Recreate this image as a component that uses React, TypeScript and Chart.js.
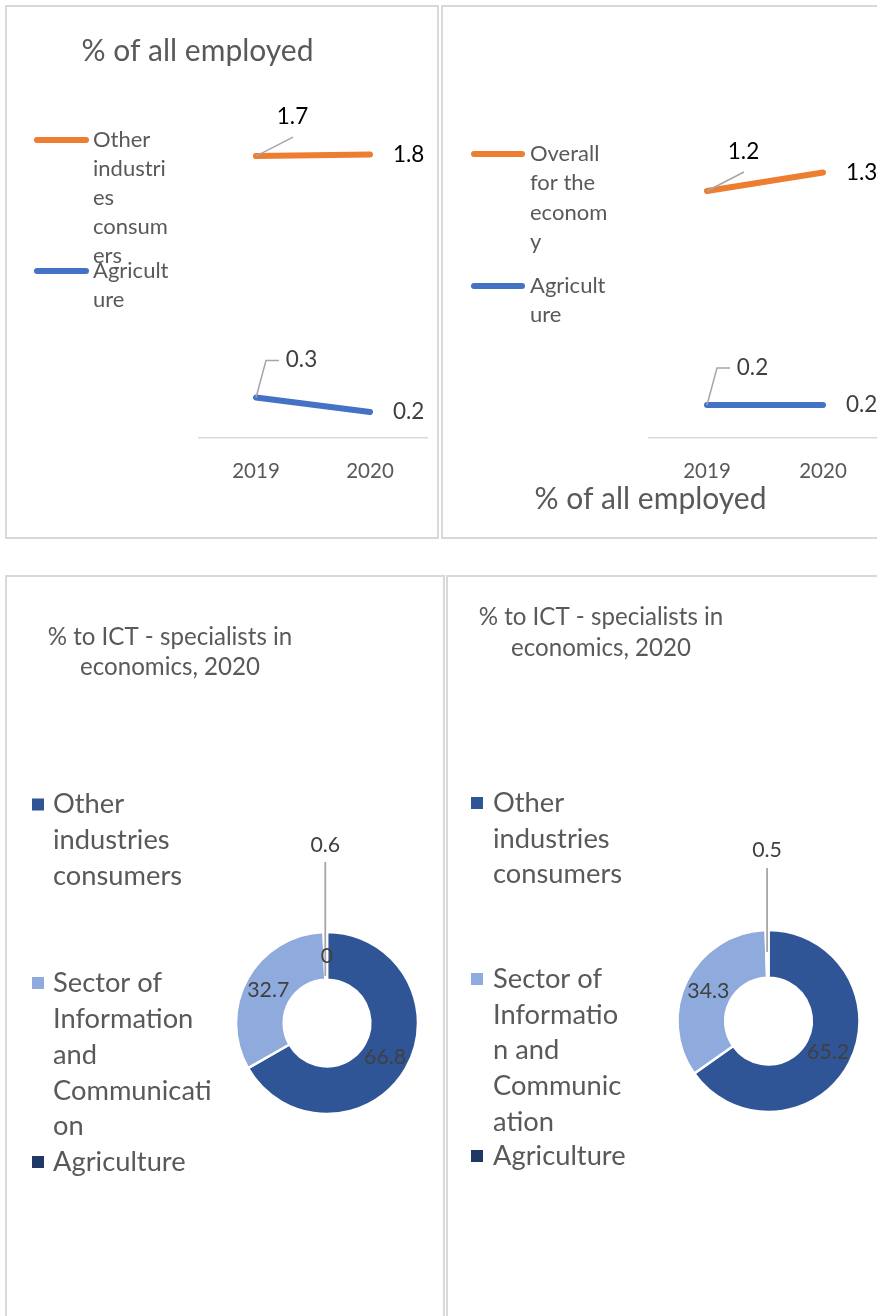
import React, { useEffect, useRef } from 'react';
import { Chart, registerables } from 'chart.js';

Chart.register(...registerables);

// ---------------- data ----------------
const years = ['2019', '2020'];
const employedTitle = '% of all employed';

const leftSeriesNames = ['Other industries consumers', 'Agriculture'];
const leftOtherIndustries = [1.74, 1.75];
const leftAgriculture = [0.25, 0.16];
const leftLegendLines = [['Other', 'industri', 'es', 'consum', 'ers'], ['Agricult', 'ure']];

const rightSeriesNames = ['Overall for the economy', 'Agriculture'];
const rightOverall = [1.2, 1.29];
const rightAgriculture = [0.16, 0.16];
const rightLegendLines = [['Overall', 'for the', 'econom', 'y'], ['Agricult', 'ure']];

const ictTitleLines = ['% to ICT - specialists in', 'economics, 2020'];
const ictCategories = ['Other industries consumers', 'Sector of Information and Communication', 'Agriculture'];
const ictLeftCategories = [...ictCategories, ''];
const ictLeftValues = [66.8, 32.7, 0.6, 0];
const ictRightValues = [65.2, 34.3, 0.5];
const ictLeftLegendLines = [['Other', 'industries', 'consumers'], ['Sector of', 'Information', 'and', 'Communicati', 'on'], ['Agriculture']];
const ictRightLegendLines = [['Other', 'industries', 'consumers'], ['Sector of', 'Informatio', 'n and', 'Communic', 'ation'], ['Agriculture']];

// ---------------- styles ----------------
const FONT = 'Lato, "Open Sans", sans-serif';
const ORANGE = '#ed7d31';
const BLUE = '#4472c4';
const DARK = '#2f5597';
const LIGHT = '#8faadc';
const NAVY = '#203864';
const GREY_TEXT = '#595959';
const LABEL_GREY = '#404040';
const LEADER = '#a6a6a6';
const BORDER = '#d9d9d9';
const ictColors = [DARK, LIGHT, NAVY, NAVY];

// ---------------- plugins ----------------
const textBlockPlugin = {
  id: 'textBlock',
  afterDraw(chart: any, _a: any, opts: any) {
    if (!opts || !opts.lines) return;
    const ctx = chart.ctx;
    ctx.save();
    ctx.font = `${opts.size}px ${FONT}`;
    ctx.fillStyle = opts.color;
    ctx.textAlign = 'center';
    ctx.textBaseline = 'middle';
    opts.lines.forEach((t: string, i: number) => ctx.fillText(t, opts.x, opts.y + i * opts.lineHeight));
    ctx.restore();
  },
};

const sideLegendPlugin = {
  id: 'sideLegend',
  afterDraw(chart: any, _a: any, opts: any) {
    if (!opts || !opts.lines) return;
    const ctx = chart.ctx;
    ctx.save();
    ctx.font = `${opts.size}px ${FONT}`;
    ctx.textBaseline = 'middle';
    ctx.textAlign = 'left';
    opts.lines.forEach((lines: string[], i: number) => {
      const y0 = opts.itemY[i];
      const color = opts.colors[i];
      if (opts.marker === 'line') {
        ctx.strokeStyle = color;
        ctx.lineWidth = 6;
        ctx.lineCap = 'round';
        ctx.beginPath();
        ctx.moveTo(opts.markerX0 + 3, y0);
        ctx.lineTo(opts.markerX1 - 3, y0);
        ctx.stroke();
      } else {
        ctx.fillStyle = color;
        const s = opts.markerX1 - opts.markerX0;
        ctx.fillRect(opts.markerX0, y0 - s / 2, s, s);
      }
      ctx.fillStyle = opts.color;
      lines.forEach((t: string, j: number) => ctx.fillText(t, opts.textX, y0 + j * opts.lineHeight));
    });
    ctx.restore();
  },
};

const lineLabelsPlugin = {
  id: 'lineLabels',
  afterDatasetsDraw(chart: any, _a: any, opts: any) {
    if (!opts || !opts.colors) return;
    const ctx = chart.ctx;
    chart.data.datasets.forEach((ds: any, di: number) => {
      const meta = chart.getDatasetMeta(di);
      const callout = opts.callouts[di];
      meta.data.forEach((pt: any, i: number) => {
        const text = Number(ds.data[i]).toFixed(1);
        ctx.save();
        ctx.font = `${opts.size}px ${FONT}`;
        ctx.fillStyle = opts.colors[di];
        ctx.textBaseline = 'middle';
        if (i === 0) {
          ctx.strokeStyle = LEADER;
          ctx.lineWidth = 1.5;
          ctx.beginPath();
          ctx.moveTo(pt.x, pt.y);
          if (callout === 'diag') {
            ctx.lineTo(pt.x + 37, pt.y - 19);
          } else {
            ctx.lineTo(pt.x + 10, pt.y - 37);
            ctx.lineTo(pt.x + 23, pt.y - 37);
          }
          ctx.stroke();
          ctx.textAlign = 'center';
          if (callout === 'diag') ctx.fillText(text, pt.x + 36.5, pt.y - 39.5);
          else ctx.fillText(text, pt.x + 45.5, pt.y - 37.5);
        } else {
          ctx.textAlign = 'left';
          ctx.fillText(text, pt.x + 23, pt.y);
        }
        ctx.restore();
      });
    });
  },
};

const donutLabelsPlugin = {
  id: 'donutLabels',
  afterDatasetsDraw(chart: any, _a: any, opts: any) {
    if (!opts || !opts.size) return;
    const ctx = chart.ctx;
    const ds = chart.data.datasets[0];
    const total = ds.data.reduce((a: number, b: number) => a + b, 0);
    const meta = chart.getDatasetMeta(0);
    meta.data.forEach((arc: any, i: number) => {
      const v = ds.data[i];
      const { x, y, startAngle, endAngle, innerRadius, outerRadius } = arc;
      const mid = (startAngle + endAngle) / 2;
      ctx.save();
      ctx.font = `${opts.size}px ${FONT}`;
      ctx.fillStyle = opts.color;
      ctx.textAlign = 'center';
      ctx.textBaseline = 'middle';
      if (v > 0 && v / total < 0.02) {
        const lx = x + Math.cos(mid) * outerRadius;
        ctx.strokeStyle = LEADER;
        ctx.lineWidth = 1.8;
        ctx.beginPath();
        ctx.moveTo(lx, y - opts.leaderStart);
        ctx.lineTo(lx, y - opts.leaderEnd);
        ctx.stroke();
        ctx.fillText(String(v), lx, y - opts.calloutOffset);
      } else {
        const r = (innerRadius + outerRadius) / 2;
        ctx.fillText(String(v), x + Math.cos(mid) * r, y + Math.sin(mid) * r);
      }
      ctx.restore();
    });
  },
};

// ---------------- configs ----------------
function makeLineConfig(p: any) {
  return {
    type: 'line',
    data: {
      labels: years,
      datasets: p.values.map((d: number[], i: number) => ({
        label: p.names[i],
        data: d,
        borderColor: p.colors[i],
        backgroundColor: p.colors[i],
        borderWidth: 6,
        borderCapStyle: 'round',
        borderJoinStyle: 'round',
        pointRadius: 0,
        pointHoverRadius: 0,
        tension: 0,
        fill: false,
      })),
    },
    options: {
      responsive: false,
      animation: false,
      events: [],
      layout: { padding: p.padding },
      scales: {
        x: {
          offset: true,
          grid: { display: false, drawTicks: false },
          border: { display: true, color: BORDER, width: 1.5 },
          ticks: { color: GREY_TEXT, font: { family: FONT, size: 20.5 }, padding: 21 },
          afterFit: (s: any) => {
            s.height = 60;
          },
        },
        y: { display: false, min: 0, max: p.yMax },
      },
      plugins: {
        legend: { display: false },
        tooltip: { enabled: false },
        title: { display: false },
        sideLegend: {
          lines: p.legendLines,
          colors: p.colors,
          marker: 'line',
          size: 22,
          color: GREY_TEXT,
          ...p.legend,
        },
        textBlock: { lines: [employedTitle], size: 30, color: GREY_TEXT, lineHeight: 30, ...p.title },
        lineLabels: { colors: ['#000000', LABEL_GREY], callouts: ['diag', 'elbow'], size: 22.5 },
      },
    },
    plugins: [sideLegendPlugin, textBlockPlugin, lineLabelsPlugin],
  };
}

function makeDonutConfig(p: any) {
  return {
    type: 'doughnut',
    data: {
      labels: p.labels,
      datasets: [
        {
          data: p.values,
          backgroundColor: ictColors.slice(0, p.values.length),
          borderColor: '#ffffff',
          borderWidth: 2.5,
          hoverOffset: 0,
        },
      ],
    },
    options: {
      responsive: false,
      animation: false,
      events: [],
      radius: 91,
      cutout: 47,
      layout: { padding: p.padding },
      plugins: {
        legend: { display: false },
        tooltip: { enabled: false },
        title: { display: false },
        sideLegend: {
          lines: p.legendLines,
          colors: ictColors,
          marker: 'square',
          size: 27.3,
          color: GREY_TEXT,
          ...p.legend,
        },
        textBlock: { lines: ictTitleLines, size: 24.1, color: GREY_TEXT, lineHeight: 30.5, ...p.title },
        donutLabels: { size: 21.3, color: LABEL_GREY, ...p.callout },
      },
    },
    plugins: [sideLegendPlugin, textBlockPlugin, donutLabelsPlugin],
  };
}

const panels = [
  {
    key: 'p1',
    left: 5,
    top: 5,
    width: 434,
    height: 534,
    border: { width: 434, height: 534 },
    config: () =>
      makeLineConfig({
        names: leftSeriesNames,
        values: [leftOtherIndustries, leftAgriculture],
        colors: [ORANGE, BLUE],
        legendLines: leftLegendLines,
        padding: { left: 194, right: 12, top: 109, bottom: 41 },
        yMax: 2,
        legend: { markerX0: 29, markerX1: 84, textX: 88, itemY: [135, 266], lineHeight: 29 },
        title: { x: 192.5, y: 46 },
      }),
  },
  {
    key: 'p2',
    left: 441,
    top: 5,
    width: 446,
    height: 534,
    border: { width: 460, height: 534 },
    config: () =>
      makeLineConfig({
        names: rightSeriesNames,
        values: [rightOverall, rightAgriculture],
        colors: [ORANGE, BLUE],
        legendLines: rightLegendLines,
        padding: { left: 208, right: 6, top: 103.7, bottom: 41 },
        yMax: 1.6,
        legend: { markerX0: 30, markerX1: 84, textX: 89, itemY: [149, 281], lineHeight: 29.3 },
        title: { x: 209.5, y: 494 },
      }),
  },
  {
    key: 'p3',
    left: 5,
    top: 575,
    width: 440,
    height: 741,
    border: { width: 440, height: 780 },
    config: () =>
      makeDonutConfig({
        labels: ictLeftCategories,
        values: ictLeftValues,
        legendLines: ictLeftLegendLines,
        padding: { left: 222, right: 18, top: 348, bottom: 193 },
        legend: { markerX0: 27, markerX1: 39, textX: 48, itemY: [229.5, 408, 587], lineHeight: 35.9 },
        title: { x: 165, y: 62 },
        callout: { calloutOffset: 178, leaderStart: 161, leaderEnd: 47 },
      }),
  },
  {
    key: 'p4',
    left: 446,
    top: 575,
    width: 441,
    height: 741,
    border: { width: 460, height: 780 },
    config: () =>
      makeDonutConfig({
        labels: ictCategories,
        values: ictRightValues,
        legendLines: ictRightLegendLines,
        padding: { left: 222.5, right: 18.5, top: 346, bottom: 195 },
        legend: { markerX0: 25, markerX1: 37, textX: 47, itemY: [228, 404, 581], lineHeight: 35.8 },
        title: { x: 155, y: 42.6 },
        callout: { calloutOffset: 171, leaderStart: 153, leaderEnd: 69 },
      }),
  },
];

function ChartCanvas(props: { left: number; top: number; width: number; height: number; config: () => any }) {
  const ref = useRef<HTMLCanvasElement>(null);
  useEffect(() => {
    if (!ref.current) return;
    const chart = new Chart(ref.current, props.config());
    return () => chart.destroy();
  }, []);
  return (
    <canvas
      ref={ref}
      width={props.width}
      height={props.height}
      style={{ position: 'absolute', left: props.left, top: props.top, width: props.width, height: props.height }}
    />
  );
}

export default function App() {
  return (
    <div
      style={{
        position: 'absolute',
        left: 0,
        top: 0,
        width: 877,
        height: 1316,
        overflow: 'hidden',
        background: '#ffffff',
      }}
    >
      {panels.map((p) => (
        <React.Fragment key={p.key}>
          <div
            style={{
              position: 'absolute',
              left: p.left,
              top: p.top,
              width: p.border.width,
              height: p.border.height,
              border: `2px solid ${BORDER}`,
              boxSizing: 'border-box',
            }}
          />
          <ChartCanvas left={p.left} top={p.top} width={p.width} height={p.height} config={p.config} />
        </React.Fragment>
      ))}
    </div>
  );
}
